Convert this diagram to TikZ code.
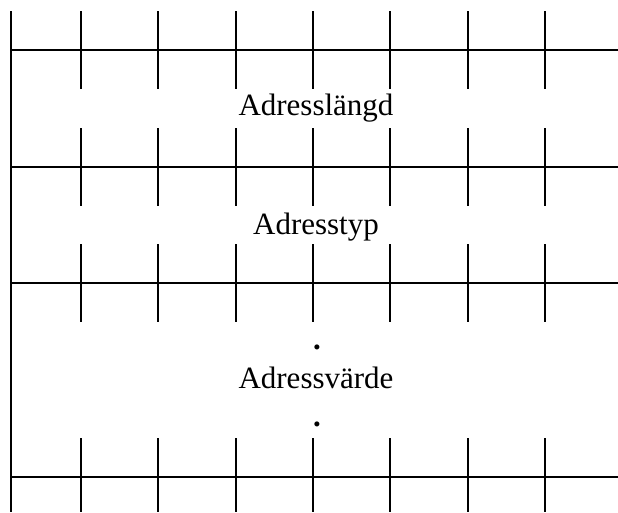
\documentclass[tikz,border=0pt]{standalone}
\usepackage{fontspec}
\setmainfont{Liberation Serif}
\tikzset{
  rule/.style={line width=1.5pt},
  heavyrule/.style={line width=1.8pt},
  tick/.style={line width=1.7pt},
  label/.style={font=\fontsize{31}{36}\selectfont, inner sep=0pt, anchor=base}
}
\begin{document}
\begin{tikzpicture}[x=1pt,y=-1pt]
\useasboundingbox (0,0) rectangle (618,512);
% left border
\draw[rule] (11,11) -- (11,512);
% horizontal rules with ticks
\foreach \y/\a/\b/\s in {50/11/89/rule, 167/128/206/rule, 283/244/322/heavyrule, 477/438/512/heavyrule} {
  \draw[\s] (11,\y) -- (618,\y);
  \foreach \x in {81,158,236,313,390,468,545} {
    \draw[tick] (\x,\a) -- (\x,\b);
  }
}
\node[label] (len) at (316,115) {Adresslängd};
\node[label] (typ) at (316,234) {Adresstyp};
\node[label] (val) at (316,388) {Adressvärde};
\node[label] (dotA) at (317,349) {\textbf{.}};
\node[label] (dotB) at (317,426) {\textbf{.}};
\end{tikzpicture}
\end{document}
